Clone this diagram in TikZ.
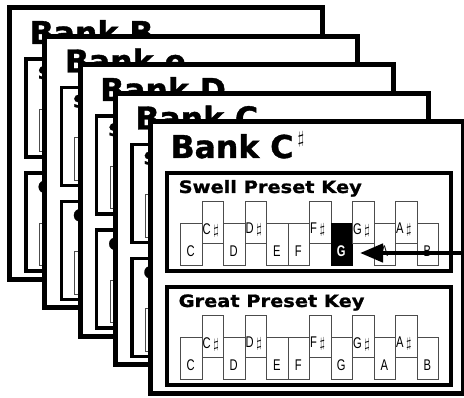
\documentclass[tikz,border=0pt]{standalone}
\usepackage{fontspec}
\setmainfont{Liberation Sans}
\newfontfamily\titlefont{DejaVu Sans}[BoldFeatures={FakeBold=1.2}]
\newfontfamily\subfont{DejaVu Sans}[FakeStretch=1.14, BoldFeatures={FakeBold=1.2}]
\newfontfamily\keyfont{Liberation Sans}[FakeStretch=0.72]
\usetikzlibrary{arrows.meta}
\tikzset{
  card/.style={draw, line width=5pt, fill=white},
  panel/.style={draw, line width=3.5pt},
  banktitle/.style={anchor=base west, inner sep=0pt, font=\titlefont\bfseries\fontsize{31.5}{32}\selectfont},
  subtitle/.style={anchor=base west, inner sep=0pt, font=\subfont\bfseries\fontsize{17}{18}\selectfont},
  pianokey/.style={draw=black!70, line width=0.8pt, fill=white, minimum width=21.5pt, minimum height=42.5pt, inner sep=0pt, anchor=north west},
  hlkey/.style={pianokey, fill=black, draw=black},
  wlab/.style={inner sep=0pt, anchor=center, font=\keyfont\fontsize{15.5}{15.5}\selectfont},
  hllab/.style={inner sep=0pt, anchor=center, text=white, font=\keyfont\bfseries\fontsize{15.5}{15.5}\selectfont},
  slab/.style={inner sep=0pt, anchor=west, font=\keyfont\fontsize{15.5}{15.5}\selectfont},
  pointer/.style={line width=4.5pt, -{Triangle[length=23pt,width=18pt]}},
}
\newcommand\keyrow[3]{%
  \foreach \i/\n/\s in {0/C/0,1/C/1,2/D/0,3/D/1,4/E/0,5/F/0,6/F/1,7/G/0,8/G/1,9/A/0,10/A/1,11/B/0}{%
    \ifnum\s=0
      \ifnum\i=#3
        \node[hlkey] (#1\i) at ({29.5+21.5*\i},{100.7+#2}) {};
        \node[hllab] (#1\i-lab) at ({40.25+21.5*\i},{129.5+#2}) {\n};
      \else
        \node[pianokey] (#1\i) at ({29.5+21.5*\i},{100.7+#2}) {};
        \node[wlab] (#1\i-lab) at ({40.25+21.5*\i},{129.5+#2}) {\n};
      \fi
    \else
      \node[pianokey] (#1\i) at ({29.5+21.5*\i},{79+#2}) {};
      \node[slab] (#1\i-lab) at ({30.5+21.5*\i},{108+#2}) {\n\,$\sharp$};
    \fi
  }%
}
\newcommand\bankcard[5]{% id, x, y, title, highlighted key
  \begin{scope}[shift={(#2,#3)}]
    \draw[card] (0,0) rectangle (313,271.5);
    \node[banktitle] (#1title) at (20,36) {#4};
    \draw[panel] (16.5,51) rectangle (300.5,149);
    \node[subtitle] (#1swell) at (28,71) {Swell Preset Key};
    \keyrow{#1s}{0}{#5}
    \draw[panel] (16.5,165) rectangle (300.5,263);
    \node[subtitle] (#1great) at (28,185) {Great Preset Key};
    \keyrow{#1g}{114}{-1}
  \end{scope}%
}
\begin{document}
\begin{tikzpicture}[x=1pt,y=-1pt]
  \fill[white] (0,0) rectangle (464,398);
  \useasboundingbox (0,0) rectangle (464,398);
  \bankcard{ca}{9.5}{8}{Bank B}{-1}
  \bankcard{cb}{44.75}{36.5}{Bank e}{-1}
  \bankcard{cc}{80}{65}{Bank D}{-1}
  \bankcard{cd}{115.25}{93.5}{Bank C}{-1}
  \bankcard{ce}{150.5}{122}{Bank C}{7}
  \node[inner sep=0pt, font=\fontsize{19}{19}\selectfont] (sharpsign) at (301,139.5) {$\sharp$};
  \coordinate (arrowfrom) at (470,253);
  \coordinate (arrowtip) at (360,253);
  \draw[pointer] (arrowfrom) -- (arrowtip);
\end{tikzpicture}
\end{document}
